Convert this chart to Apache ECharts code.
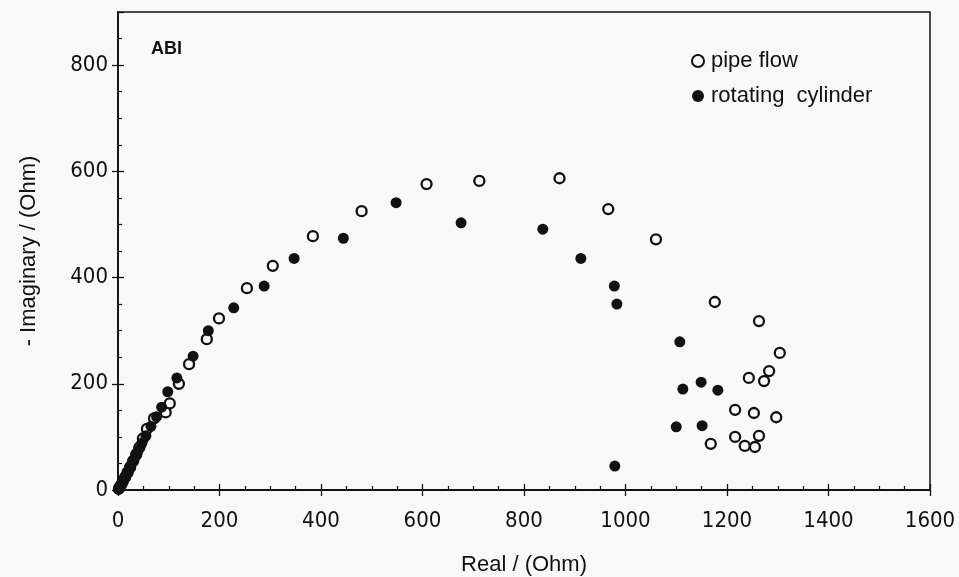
<!DOCTYPE html>
<html>
<head>
<meta charset="utf-8">
<script src="https://cdn.jsdelivr.net/npm/echarts@6/dist/echarts.min.js"></script>
<style>html,body{margin:0;padding:0;background:#f8f8f8;}#c{width:959px;height:577px;}</style>
</head>
<body>
<div id="c"></div>
<script>
// Pipe flow (open circles)
const pipeReal = [2,5,9,14,19,24,30,36,42,49,57,71,94,102,120,140,175,199,254,305,384,480,608,712,870,966,1060,1176,1263,1304,1283,1273,1243,1216,1253,1297,1263,1216,1168,1235,1255];
const pipeImag = [3,8,15,24,33,43,55,67,80,97,115,135,146,163,200,237,284,323,380,422,478,525,576,582,587,529,472,354,318,258,224,205,211,151,145,137,102,100,87,83,81];
// Rotating cylinder (filled circles)
const cylReal = [1,3,6,10,14,18,23,28,34,40,47,55,65,76,86,98,116,148,178,228,288,347,444,548,676,837,912,978,983,1107,1113,1149,1182,1100,1151,979];
const cylImag = [1,5,10,17,25,33,42,52,63,75,88,102,120,138,156,185,211,252,300,343,384,436,474,541,503,491,436,384,350,279,190,203,188,119,121,45];
const xTicks = {min:0, max:1600, interval:200};
const yTicks = {min:0, max:900, interval:200};

const zip = (a,b) => a.map((v,i)=>[v,b[i]]);
const font = 'Liberation Sans, Arial, sans-serif';
const narrow = '"Liberation Sans Narrow", "Arial Narrow", "DejaVu Sans Condensed", sans-serif';
const lbl = {color:'#111', fontSize:22, fontFamily:narrow, formatter:(v)=>String(v)};

const chart = echarts.init(document.getElementById('c'));
chart.setOption({
  backgroundColor:'#f8f8f8',
  animation:false,
  title:{text:'ABI', left:146, top:35, textStyle:{fontSize:18, fontWeight:'bold', color:'#111', fontFamily:font}},
  legend:{
    orient:'vertical', left:686, top:44, itemGap:11, itemWidth:12, itemHeight:12,
    textStyle:{fontSize:22, lineHeight:24, color:'#111', fontFamily:font, padding:[0,0,0,2]},
    data:[{name:'pipe flow', icon:'circle'},{name:'rotating  cylinder', icon:'circle'}]
  },
  grid:{left:118, right:29, top:12, bottom:87, outerBoundsMode:'none', containLabel:false,
        show:true, borderColor:'#111', borderWidth:1.5, backgroundColor:'transparent'},
  xAxis:[{
    type:'value', min:xTicks.min, max:xTicks.max, interval:xTicks.interval,
    axisLine:{lineStyle:{color:'#111', width:1.8}},
    axisTick:{inside:false, length:6, lineStyle:{color:'#111', width:1.3}},
    axisLabel:Object.assign({margin:20}, lbl),
    splitLine:{show:false},
    name:'Real / (Ohm)', nameLocation:'middle', nameGap:64,
    nameTextStyle:{fontSize:22, color:'#111', fontFamily:font}
  },{
    type:'value', min:xTicks.min, max:xTicks.max, interval:xTicks.interval, position:'bottom',
    axisLine:{show:false},
    axisTick:{inside:true, length:6, lineStyle:{color:'#111', width:1.3}},
    minorTick:{show:true, splitNumber:4, length:4, lineStyle:{color:'#111', width:1.2}},
    axisLabel:{show:false}, splitLine:{show:false}
  }],
  yAxis:[{
    type:'value', min:yTicks.min, max:yTicks.max, interval:yTicks.interval,
    axisLine:{lineStyle:{color:'#111', width:1.8}},
    axisTick:{inside:false, length:6, lineStyle:{color:'#111', width:1.3}},
    axisLabel:Object.assign({margin:10, showMaxLabel:false}, lbl),
    splitLine:{show:false},
    name:'- Imaginary / (Ohm)', nameLocation:'middle', nameGap:78,
    nameTextStyle:{fontSize:22, color:'#111', fontFamily:font}
  },{
    type:'value', min:yTicks.min, max:yTicks.max, interval:yTicks.interval, position:'left',
    axisLine:{show:false},
    axisTick:{inside:true, length:6, lineStyle:{color:'#111', width:1.3}},
    minorTick:{show:true, splitNumber:4, length:4, lineStyle:{color:'#111', width:1.2}},
    axisLabel:{show:false}, splitLine:{show:false}
  }],
  series:[{
    name:'pipe flow', type:'scatter', symbol:'circle', symbolSize:10,
    itemStyle:{color:'#fafafa', borderColor:'#111', borderWidth:2.3, opacity:1},
    data:zip(pipeReal,pipeImag)
  },{
    name:'rotating  cylinder', type:'scatter', symbol:'circle', symbolSize:11,
    itemStyle:{color:'#111', opacity:1},
    data:zip(cylReal,cylImag)
  }]
});
</script>
</body>
</html>
